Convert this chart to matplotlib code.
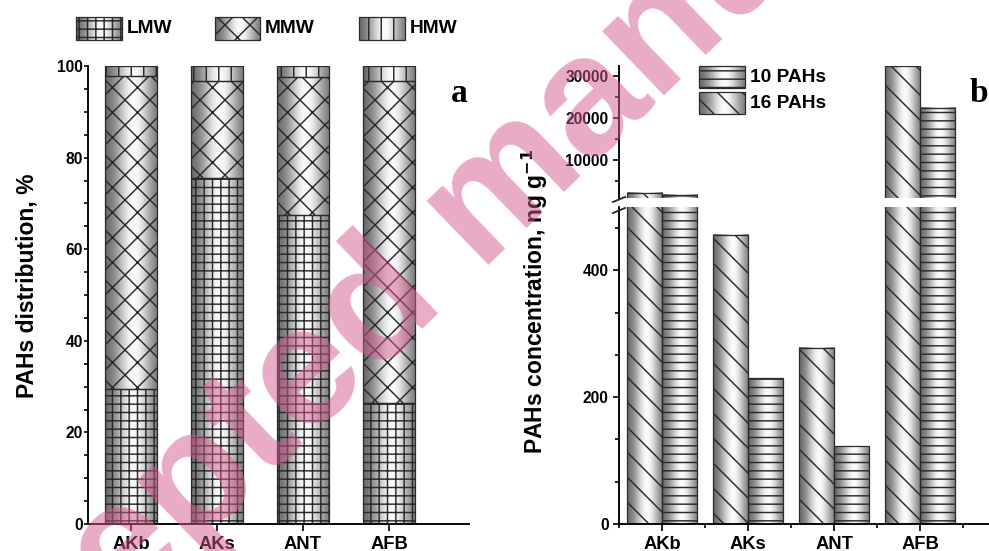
import numpy as np
import matplotlib
matplotlib.use('Agg')
import matplotlib.pyplot as plt
from matplotlib.patches import Rectangle
from matplotlib.ticker import MultipleLocator, AutoMinorLocator, FixedLocator

# data
sites = ['AKb', 'AKs', 'ANT', 'AFB']
lmw = [29.5, 75.5, 67.5, 26.5]
mmw = [68.4, 21.3, 30.2, 70.2]
hmw = [2.1, 3.2, 2.3, 3.3]
pah16 = [2300, 456, 278, 32400]
pah10 = [1800, 230, 123, 22500]

plt.rcParams['font.family'] = 'Liberation Sans'
plt.rcParams['font.weight'] = 'bold'
plt.rcParams['axes.labelweight'] = 'bold'
plt.rcParams['hatch.linewidth'] = 0.7
plt.rcParams['axes.linewidth'] = 0.9

EDGE = '#2a2a2a'
DPI = 150
t = np.linspace(0, 1, 80)
GRAD = (0.36 + 0.62 * np.exp(-((t - 0.56) / 0.36) ** 2))[None, :]

def grad_bars(ax, xs, heights, width, bottoms, hatch):
    # gradient fill under a hatched, unfilled bar
    for x, h, b in zip(xs, heights, bottoms):
        ax.imshow(GRAD, cmap='gray', vmin=0, vmax=1, aspect='auto',
                  interpolation='bicubic', extent=[x - width / 2, x + width / 2, b, b + h],
                  zorder=1)
    ax.bar(xs, heights, width, bottom=bottoms, facecolor='none', edgecolor=EDGE,
           hatch=hatch, lw=0.6, zorder=2)

fig = plt.figure(figsize=(989 / DPI, 551 / DPI), dpi=DPI)

# ---------- panel a ----------
x = np.arange(1, len(sites) + 1)
axa = fig.add_axes([88 / 989, 27 / 551, 381 / 989, 458 / 551])
b2 = np.add(lmw, mmw)
grad_bars(axa, x, lmw, 0.6, [0] * 4, '+++')
grad_bars(axa, x, mmw, 0.6, lmw, 'xx')
grad_bars(axa, x, hmw, 0.6, b2, '||')
axa.set_xlim(0.5, 4.93)
axa.set_ylim(0, 100)
axa.spines[['top', 'right']].set_visible(False)
axa.yaxis.set_major_locator(MultipleLocator(20))
axa.yaxis.set_minor_locator(MultipleLocator(5))
axa.set_xticks(x)
axa.set_xticklabels(sites, fontsize=8.8)
axa.tick_params(axis='y', labelsize=7.5, length=2, width=0.8, pad=0.5)
axa.tick_params(axis='y', which='minor', length=2, width=0.8)
axa.tick_params(axis='x', length=3.2, width=0.8, pad=2.5)
axa.set_ylabel('PAHs distribution, %', fontsize=11)
axa.yaxis.set_label_coords(-0.131, 0.52)

# ---------- panel b (broken axis) ----------
w = 0.407
axl = fig.add_axes([619 / 989, 27 / 551, 370 / 989, 317 / 551])
axu = fig.add_axes([619 / 989, 1 - 198.3 / 551, 370 / 989, 132.3 / 551])
for ax in (axl, axu):
    grad_bars(ax, x - w / 2, pah16, w, [0] * 4, '\\\\')
    grad_bars(ax, x + w / 2, pah10, w, [0] * 4, '---')
    ax.set_xlim(0.5, 4.8)
    ax.spines[['top', 'right']].set_visible(False)
    ax.tick_params(axis='y', labelsize=7.5, length=3, width=0.8, pad=2)
    ax.tick_params(axis='y', which='minor', length=2, width=0.8)

axl.set_ylim(0, 500)
axl.yaxis.set_major_locator(MultipleLocator(200))
axl.yaxis.set_minor_locator(AutoMinorLocator(3))
axl.set_xticks(x)
axl.set_xticklabels(sites, fontsize=8.8)
axl.xaxis.set_minor_locator(FixedLocator(np.arange(0.5, 5, 1)))
axl.tick_params(axis='x', length=3.2, width=0.8, pad=2.5)
axl.tick_params(axis='x', which='minor', length=1.8, width=0.8)

axu.set_ylim(1000, 32400)
axu.yaxis.set_major_locator(FixedLocator([10000, 20000, 30000]))
axu.yaxis.set_minor_locator(FixedLocator([5000, 15000, 25000]))
axu.spines['bottom'].set_visible(False)
axu.set_xticks([])

# ---------- overlay in pixel coords: legends, labels, break marks, watermark ----------
ov = fig.add_axes([0, 0, 1, 1], zorder=10)
ov.axis('off')

def legend_patch(x0, y0, x1, y1, hatch, label, lx):
    ov.imshow(GRAD, cmap='gray', vmin=0, vmax=1, aspect='auto', interpolation='bicubic',
              extent=[x0, x1, y1, y0], zorder=1)
    ov.add_patch(Rectangle((x0, y0), x1 - x0, y1 - y0, fill=False, hatch=hatch,
                           edgecolor=EDGE, lw=0.6, zorder=2))
    ov.text(lx, (y0 + y1) / 2, label, fontsize=9.2, va='center', ha='left')

legend_patch(76, 17, 122, 40, '+++', 'LMW', 127)
legend_patch(215, 17, 260, 40, 'xx', 'MMW', 265)
legend_patch(359, 17, 405, 40, '||', 'HMW', 410)
legend_patch(699, 66, 745, 88, '---', '10 PAHs', 750)
legend_patch(699, 92, 745, 114, '\\\\', '16 PAHs', 750)

ov.text(459, 94, 'a', fontsize=16, family='Liberation Serif', ha='center', va='center')
ov.text(979, 93, 'b', fontsize=16, family='Liberation Serif', ha='center', va='center')
ov.text(535, 301, 'PAHs concentration, ng g$^{\\mathbf{-1}}$', fontsize=11, rotation=90,
        ha='center', va='center')

for yb in (199.5, 210.5):
    ov.plot([613, 625], [yb + 2.5, yb - 2.5], color=EDGE, lw=0.9)

ov.text(487, 205, 'Accepted manuscript', fontsize=81, rotation=44,
        ha='center', va='center', color=(0.82, 0.35, 0.56), alpha=0.5,
        rotation_mode='anchor')

ov.set_xlim(0, 989)
ov.set_ylim(551, 0)

fig.savefig('out.png', dpi=DPI)
